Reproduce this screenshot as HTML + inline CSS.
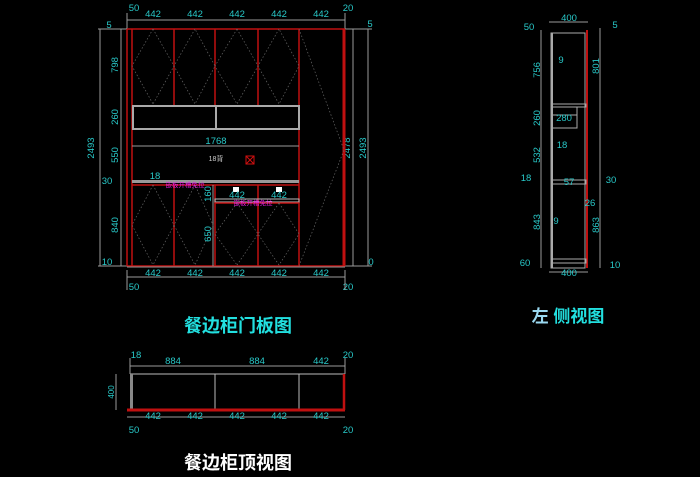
<!DOCTYPE html>
<html><head><meta charset="utf-8"><style>
html,body{margin:0;padding:0;background:#000;}
svg{display:block}
text{font-family:"Liberation Sans","Noto Sans CJK SC",sans-serif;}
.d{fill:#28c8c8;font-size:9.5px;text-anchor:middle}
.g{stroke:#9a9a9a;stroke-width:1;fill:none}
.w{stroke:#aaa;stroke-width:2;fill:none}
.r{stroke:#c01010;stroke-width:1.5;fill:none}
.dash{stroke:#666;stroke-width:0.7;stroke-dasharray:1.5,2;fill:none}
</style></head><body>
<svg width="700" height="477" viewBox="0 0 700 477" xmlns="http://www.w3.org/2000/svg">
<rect width="700" height="477" fill="#000"/>
<!-- FRONT VIEW -->
<g>
<line class="g" x1="127" y1="20" x2="345" y2="20"/>
<g class="d"><text x="153" y="17">442</text><text x="195" y="17">442</text><text x="237" y="17">442</text><text x="279" y="17">442</text><text x="321" y="17">442</text>
<text x="134" y="11">50</text><text x="348" y="11">20</text></g>
<line class="g" x1="127" y1="13" x2="127" y2="29"/><line class="g" x1="345" y1="13" x2="345" y2="29"/>
<line class="g" x1="100" y1="29" x2="100" y2="266"/><line class="g" x1="121" y1="29" x2="121" y2="266"/>
<line class="g" x1="98" y1="29" x2="127" y2="29"/><line class="g" x1="98" y1="266" x2="127" y2="266"/>
<g class="d">
<text transform="translate(94,148) rotate(-90)">2493</text>
<text transform="translate(118,65) rotate(-90)">798</text>
<text transform="translate(118,117) rotate(-90)">260</text>
<text transform="translate(118,155) rotate(-90)">550</text>
<text x="107" y="184">30</text>
<text transform="translate(118,225) rotate(-90)">840</text>
<text x="107" y="265">10</text>
<text x="109" y="28">5</text>
</g>
<line class="g" x1="353" y1="29" x2="353" y2="266"/><line class="g" x1="368" y1="29" x2="368" y2="266"/>
<line class="g" x1="345" y1="29" x2="372" y2="29"/><line class="g" x1="345" y1="266" x2="372" y2="266"/>
<g class="d">
<text transform="translate(350,148) rotate(-90)">2478</text>
<text transform="translate(366,148) rotate(-90)">2493</text>
<text x="370" y="27">5</text><text x="371" y="265">0</text>
</g>
<line class="r" x1="127" y1="29" x2="127" y2="266"/>
<line class="r" x1="132" y1="29" x2="132" y2="266"/>
<line class="r" x1="344" y1="29" x2="344" y2="266" style="stroke-width:3"/>
<line class="r" x1="127" y1="29" x2="345" y2="29"/>
<line class="r" x1="127" y1="266" x2="345" y2="266"/>
<line class="g" x1="127" y1="267" x2="345" y2="267"/>
<line class="r" x1="174" y1="29" x2="174" y2="105"/><line class="r" x1="215" y1="29" x2="215" y2="105"/>
<line class="r" x1="258" y1="29" x2="258" y2="105"/><line class="r" x1="299" y1="29" x2="299" y2="266"/>
<path class="dash" d="M153 29 L132 66 L153 104 M153 29 L174 66 L153 104 M195 29 L174 66 L195 104 L215 66 Z M237 29 L215 66 L237 104 M237 29 L258 66 L237 104 M279 29 L258 66 L279 104 L299 66 Z"/>
<path class="dash" d="M299 29 L344 150 L299 266"/>
<rect class="w" x="133" y="106" width="166" height="23"/>
<line class="w" x1="216" y1="106" x2="216" y2="129"/>
<line class="g" x1="132" y1="146" x2="299" y2="146"/>
<text class="d" x="216" y="144">1768</text>
<text x="216" y="161" style="fill:#ccc;font-size:7px;text-anchor:middle">18背</text>
<rect x="246" y="156" width="8" height="8" fill="none" stroke="#d01010"/>
<path d="M246 156 L254 164 M254 156 L246 164" stroke="#d01010"/>
<rect x="132" y="180" width="167" height="3" fill="#999"/>
<text class="d" x="155" y="179">18</text>
<line class="r" x1="132" y1="185" x2="299" y2="185"/>
<line class="r" x1="174" y1="185" x2="174" y2="266"/>
<line class="r" x1="215" y1="185" x2="215" y2="266"/>
<line class="r" x1="258" y1="185" x2="258" y2="266"/>
<line class="g" x1="213" y1="185" x2="213" y2="266"/>
<rect x="215" y="199" width="84" height="3" fill="none" stroke="#bbb"/>
<line class="r" x1="215" y1="203" x2="299" y2="203"/>
<path class="dash" d="M153 185 L132 225 L153 265 M153 185 L174 225 L153 265 M195 185 L174 225 L195 265 L213 225 Z M237 203 L215 234 L237 265 M237 203 L258 234 L237 265 M279 203 L258 234 L279 265 L299 234 Z"/>
<rect x="233" y="187" width="6" height="5" fill="#fff"/><rect x="276" y="187" width="6" height="5" fill="#fff"/>
<g class="d"><text x="237" y="198">442</text><text x="279" y="198">442</text>
<text transform="translate(211,194) rotate(-90)">160</text>
<text transform="translate(211,234) rotate(-90)">650</text></g>
<text x="185" y="187" style="fill:#e020e0;font-size:6.5px;text-anchor:middle">嵌板开槽免拉</text>
<text x="253" y="205" style="fill:#e020e0;font-size:6.5px;text-anchor:middle">嵌板开槽免拉</text>
<line class="g" x1="127" y1="277" x2="345" y2="277"/>
<g class="d"><text x="153" y="276">442</text><text x="195" y="276">442</text><text x="237" y="276">442</text><text x="279" y="276">442</text><text x="321" y="276">442</text>
<text x="134" y="290">50</text><text x="348" y="290">20</text></g>
<line class="g" x1="127" y1="270" x2="127" y2="290"/><line class="g" x1="345" y1="270" x2="345" y2="290"/>
<text x="238" y="332" style="fill:#22e0e0;font-size:18px;font-weight:bold;text-anchor:middle">餐边柜门板图</text>
</g>

<!-- TOP VIEW -->
<g>
<line class="g" x1="130" y1="366" x2="345" y2="366"/>
<line class="g" x1="130" y1="358" x2="130" y2="374"/><line class="g" x1="345" y1="358" x2="345" y2="374"/>
<g class="d"><text x="173" y="364">884</text><text x="257" y="364">884</text><text x="321" y="364">442</text>
<text x="136" y="358">18</text><text x="348" y="358">20</text></g>
<rect class="g" x="131" y="374" width="213" height="36" style="stroke:#bbb"/>
<rect x="130" y="374" width="3" height="36" fill="#888"/>
<line class="g" x1="215" y1="374" x2="215" y2="410" style="stroke:#bbb"/>
<line class="g" x1="299" y1="374" x2="299" y2="410" style="stroke:#bbb"/>
<line x1="127" y1="410" x2="345" y2="410" stroke="#c01010" stroke-width="3"/>
<line x1="344" y1="374" x2="344" y2="410" stroke="#c01010" stroke-width="2.5"/>
<line class="g" x1="116" y1="374" x2="116" y2="410"/>
<text class="d" transform="translate(114,392) rotate(-90)" style="font-size:8px">400</text>
<line class="g" x1="127" y1="417" x2="345" y2="417"/>
<g class="d"><text x="153" y="419">442</text><text x="195" y="419">442</text><text x="237" y="419">442</text><text x="279" y="419">442</text><text x="321" y="419">442</text>
<text x="134" y="433">50</text><text x="348" y="433">20</text></g>
<text x="238" y="469" style="fill:#fff;font-size:18px;font-weight:bold;text-anchor:middle">餐边柜顶视图</text>
</g>

<!-- SIDE VIEW -->
<g>
<line class="g" x1="549" y1="22" x2="588" y2="22"/>
<text class="d" x="569" y="21">400</text>
<line class="g" x1="549" y1="272" x2="588" y2="272"/>
<text class="d" x="569" y="276">400</text>
<rect class="w" x="551" y="33" width="34" height="235" style="stroke-width:1"/>
<line class="w" x1="552" y1="33" x2="552" y2="268"/>
<line x1="587" y1="30" x2="587" y2="268" stroke="#c01010" stroke-width="2"/>
<rect class="w" x="551" y="104" width="35" height="3" style="stroke-width:1"/>
<rect class="w" x="551" y="115" width="26" height="13" style="stroke-width:1"/>
<line class="w" x1="577" y1="107" x2="577" y2="128" style="stroke-width:1"/>
<rect class="w" x="551" y="180" width="35" height="4" style="stroke-width:1"/>
<rect class="w" x="551" y="259" width="35" height="4" style="stroke-width:1"/>
<line class="g" x1="541" y1="30" x2="541" y2="268"/>
<line class="g" x1="600" y1="28" x2="600" y2="268"/>
<g class="d">
<text x="529" y="30">50</text>
<text transform="translate(540,70) rotate(-90)">756</text>
<text transform="translate(540,118) rotate(-90)">260</text>
<text transform="translate(540,155) rotate(-90)">532</text>
<text x="526" y="181">18</text>
<text transform="translate(540,222) rotate(-90)">843</text>
<text x="525" y="266">60</text>
<text x="615" y="28">5</text>
<text transform="translate(599,66) rotate(-90)">801</text>
<text x="611" y="183">30</text>
<text transform="translate(599,225) rotate(-90)">863</text>
<text x="615" y="268">10</text>
<text x="564" y="121">280</text>
<text x="562" y="148">18</text>
<text x="561" y="63">9</text>
<text x="556" y="224">9</text>
<text x="590" y="206">26</text>
<text x="569" y="185">57</text>
</g>
<text x="568" y="322" style="fill:#9ad8f0;font-size:17px;font-weight:bold;text-anchor:middle">左 <tspan style="fill:#22e0e0">侧视图</tspan></text>
</g>
</svg>
</body></html>
